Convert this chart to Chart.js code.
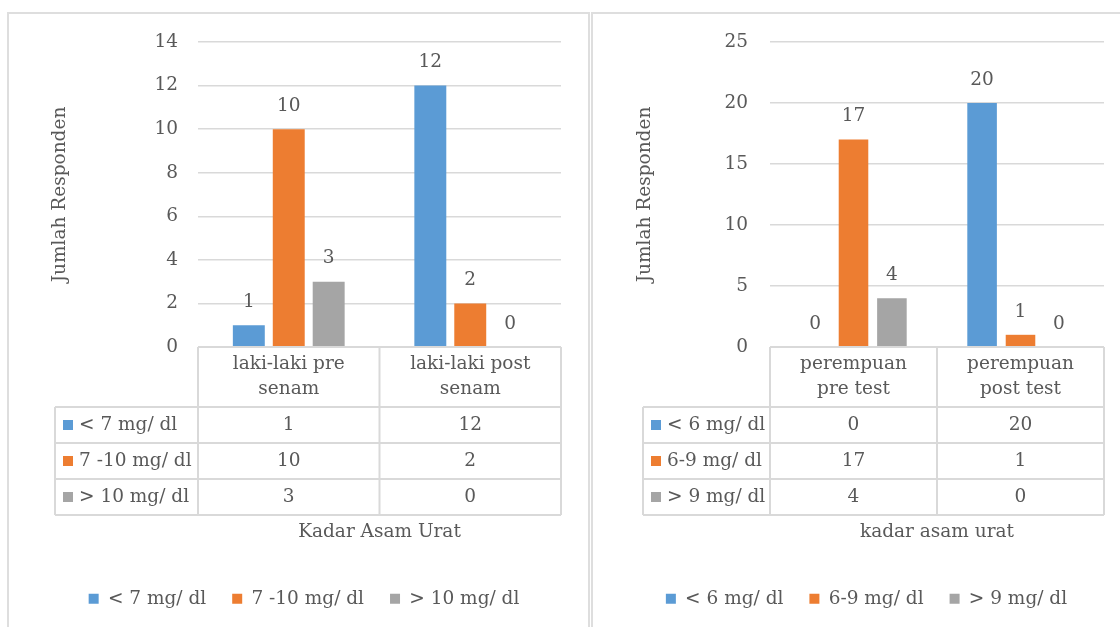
<!DOCTYPE html>
<html>
<head>
<meta charset="utf-8">
<script src="https://cdn.jsdelivr.net/npm/chart.js@4"></script>
<style>
  html, body { margin: 0; padding: 0; background: #fff; overflow: hidden; }
  body { width: 1120px; height: 627px; position: relative; }
  .frame { position: absolute; top: 12px; height: 640px; border: 2px solid #dedede; box-sizing: border-box; }
  canvas { position: absolute; }
</style>
</head>
<body>
<div class="frame" style="left:7px; width:583px;"></div>
<div class="frame" style="left:591px; width:560px;"></div>
<canvas id="chartLaki" width="577" height="613" style="left:10px; top:14px;"></canvas>
<canvas id="chartPerempuan" width="526" height="613" style="left:594px; top:14px;"></canvas>
<script>
// ===== DATA =====
const lakiCategories = [["laki-laki pre", "senam"], ["laki-laki post", "senam"]];
const lakiSeries = ["< 7 mg/ dl", "7 -10 mg/ dl", "> 10 mg/ dl"];
const lakiLow = [1, 12];
const lakiMid = [10, 2];
const lakiHigh = [3, 0];
const lakiYMax = 14;
const lakiYStep = 2;

const perempuanCategories = [["perempuan", "pre test"], ["perempuan", "post test"]];
const perempuanSeries = ["< 6 mg/ dl", "6-9 mg/ dl", "> 9 mg/ dl"];
const perempuanLow = [0, 20];
const perempuanMid = [17, 1];
const perempuanHigh = [4, 0];
const perempuanYMax = 25;
const perempuanYStep = 5;

const colors = ["#5b9bd5", "#ed7d31", "#a5a5a5"];
const textColor = "#595959";
const lineColor = "#d9d9d9";
const FONT = "'DejaVu Serif', serif";
const FS = 18.5;

/* ===== PLUGIN: value labels + data table ===== */
const tablePlugin = {
  id: "dataTable",
  afterDatasetsDraw(chart) {
    const ctx = chart.ctx;
    ctx.save();
    ctx.font = FS + "px " + FONT;
    ctx.fillStyle = textColor;
    ctx.textAlign = "center";
    ctx.textBaseline = "middle";
    chart.data.datasets.forEach((ds, i) => {
      const meta = chart.getDatasetMeta(i);
      meta.data.forEach((bar, j) => {
        ctx.fillText(String(ds.data[j]), bar.x, bar.y - 23);
      });
    });
    ctx.restore();
  },
  afterDraw(chart, args, opts) {
    const { ctx, chartArea } = chart;
    const xs = chart.scales.x;
    const cats = chart.data.labels;
    const sets = chart.data.datasets;
    const top = chartArea.bottom;
    const headH = 60, rowH = 36;
    const labelLeft = opts.labelLeft;
    const bottom = top + headH + rowH * sets.length;

    // batas kolom
    const bounds = [chartArea.left];
    for (let i = 1; i < cats.length; i++) {
      bounds.push((xs.getPixelForValue(i - 1) + xs.getPixelForValue(i)) / 2);
    }
    bounds.push(chartArea.right);

    ctx.save();
    ctx.strokeStyle = lineColor;
    ctx.lineWidth = 2;
    ctx.beginPath();
    ctx.moveTo(chartArea.left, top);
    ctx.lineTo(chartArea.right, top);
    for (let k = 0; k <= sets.length; k++) {
      const y = top + headH + rowH * k;
      ctx.moveTo(labelLeft, y);
      ctx.lineTo(chartArea.right, y);
    }
    ctx.moveTo(labelLeft, top + headH);
    ctx.lineTo(labelLeft, bottom);
    bounds.forEach((bx) => {
      ctx.moveTo(bx, top);
      ctx.lineTo(bx, bottom);
    });
    ctx.stroke();

    ctx.font = FS + "px " + FONT;
    ctx.fillStyle = textColor;
    ctx.textBaseline = "middle";
    ctx.textAlign = "center";
    // header kategori
    cats.forEach((lab, i) => {
      const cx = xs.getPixelForValue(i);
      const lines = Array.isArray(lab) ? lab : [lab];
      lines.forEach((ln, l) => ctx.fillText(ln, cx, top + 17 + l * 25));
    });
    // baris data
    sets.forEach((ds, k) => {
      const cy = top + headH + rowH * (k + 0.5);
      ds.data.forEach((v, j) => {
        ctx.fillText(String(v), xs.getPixelForValue(j), cy);
      });
      ctx.fillStyle = ds.backgroundColor;
      ctx.fillRect(labelLeft + 8, cy - 5, 10, 10);
      ctx.fillStyle = textColor;
      ctx.textAlign = "left";
      ctx.fillText(ds.label, labelLeft + 24, cy);
      ctx.textAlign = "center";
    });
    // judul sumbu x
    ctx.fillText(opts.xTitle, (chartArea.left + chartArea.right) / 2, top + 185);
    ctx.restore();
  },
};

function buildChart(canvasId, cfg) {
  const ctx = document.getElementById(canvasId).getContext("2d");
  return new Chart(ctx, {
    type: "bar",
    data: {
      labels: cfg.categories,
      datasets: cfg.series.map((name, i) => ({
        label: name,
        data: cfg.values[i],
        backgroundColor: colors[i],
        borderWidth: 0,
        categoryPercentage: cfg.catPct,
        barPercentage: cfg.barPct,
      })),
    },
    options: {
      responsive: false,
      animation: false,
      devicePixelRatio: 1,
      layout: {
        padding: { top: 28, left: cfg.padLeft, right: cfg.padRight, bottom: 9 },
      },
      scales: {
        x: {
          ticks: { display: false },
          grid: { display: false },
          border: { display: false },
          afterFit: (scale) => { scale.height = 216.5; },
        },
        y: {
          min: 0,
          max: cfg.yMax,
          ticks: {
            stepSize: cfg.yStep,
            color: textColor,
            padding: 0,
            font: { family: FONT, size: FS },
          },
          grid: {
            color: lineColor,
            lineWidth: 1.5,
            drawTicks: true,
            tickLength: cfg.tickGap,
            tickColor: "rgba(0,0,0,0)",
          },
          border: { display: false },
          title: {
            display: true,
            text: "Jumlah Responden",
            color: textColor,
            padding: { top: cfg.titlePad, bottom: 0 },
            font: { family: FONT, size: FS },
          },
          afterFit: (scale) => { scale.width = cfg.yWidth; },
        },
      },
      plugins: {
        legend: {
          position: "bottom",
          labels: {
            boxWidth: 10,
            boxHeight: 10,
            padding: 26,
            color: textColor,
            font: { family: FONT, size: FS },
          },
        },
        tooltip: { enabled: false },
        dataTable: { labelLeft: cfg.labelLeft, xTitle: cfg.xTitle },
      },
    },
    plugins: [tablePlugin],
  });
}

buildChart("chartLaki", {
  categories: lakiCategories,
  series: lakiSeries,
  values: [lakiLow, lakiMid, lakiHigh],
  yMax: lakiYMax,
  yStep: lakiYStep,
  catPct: 0.66,
  barPct: 0.8,
  padLeft: 37,
  padRight: 26,
  yWidth: 151,
  tickGap: 20,
  titlePad: 2,
  labelLeft: 45,
  xTitle: "Kadar Asam Urat",
});

buildChart("chartPerempuan", {
  categories: perempuanCategories,
  series: perempuanSeries,
  values: [perempuanLow, perempuanMid, perempuanHigh],
  yMax: perempuanYMax,
  yStep: perempuanYStep,
  catPct: 0.69,
  barPct: 0.77,
  padLeft: 35,
  padRight: 16,
  yWidth: 141,
  tickGap: 22,
  titlePad: 5,
  labelLeft: 49,
  xTitle: "kadar asam urat",
});
</script>
</body>
</html>
